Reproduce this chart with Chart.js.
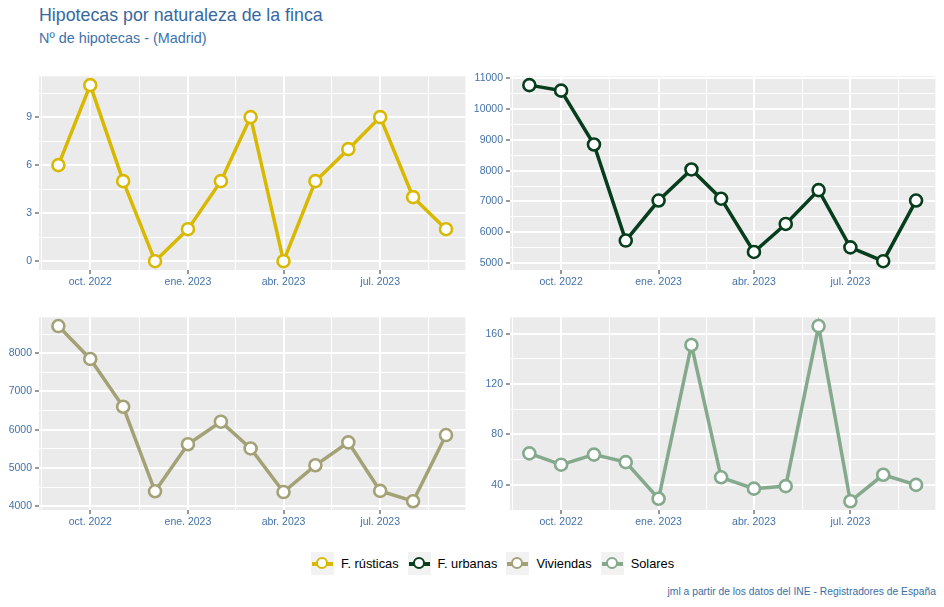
<!DOCTYPE html>
<html>
<head>
<meta charset="utf-8">
<script src="https://cdn.jsdelivr.net/npm/chart.js"></script>
<style>
  body { margin: 0; width: 944px; height: 607px; position: relative; overflow: hidden; background: #fff;
         font-family: 'Liberation Sans', Arial, sans-serif; }
  #title { position: absolute; left: 39px; top: 6px; font-size: 17.8px; line-height: 18px; color: #36689e; white-space: nowrap; }
  #subtitle { position: absolute; left: 39px; top: 31px; font-size: 14.4px; line-height: 14.5px; color: #3d72ad; white-space: nowrap; }
  .panel { position: absolute; }
  #legend { position: absolute; left: 311px; top: 552px; display: flex; align-items: center; height: 23px; }
  .item { display: flex; align-items: center; margin-right: 9px; }
  .key { width: 23px; height: 23px; background: #f2f2f2; position: relative; }
  .key .ln { position: absolute; left: 1px; right: 1px; top: 10px; height: 3.5px; }
  .key .pt { position: absolute; left: 5px; top: 5px; width: 8px; height: 8px; border-radius: 50%; background: #fff; border: 2.5px solid; }
  .lab { font-size: 12.8px; color: #000; margin-left: 7px; }
  #caption { position: absolute; right: 8px; top: 586px; font-size: 10.3px; color: #3a6ea5; white-space: nowrap; }
</style>
</head>
<body>
<div id="title">Hipotecas por naturaleza de la finca</div>
<div id="subtitle">Nº de hipotecas - (Madrid)</div>

<div class="panel" style="left:0;top:67px;width:474px;height:233px"><canvas id="c1"></canvas></div>
<div class="panel" style="left:470px;top:67px;width:474px;height:233px"><canvas id="c2"></canvas></div>
<div class="panel" style="left:0;top:308px;width:474px;height:232px"><canvas id="c3"></canvas></div>
<div class="panel" style="left:470px;top:308px;width:474px;height:232px"><canvas id="c4"></canvas></div>

<div id="legend"></div>
<div id="caption">jml a partir de los datos del INE - Registradores de España</div>

<script>
// data
const months = ['2022-09', '2022-10', '2022-11', '2022-12', '2023-01', '2023-02', '2023-03',
                '2023-04', '2023-05', '2023-06', '2023-07', '2023-08', '2023-09'];
const rusticas  = [6, 11, 5, 0, 2, 5, 9, 0, 5, 7, 9, 4, 2];
const urbanas   = [10780, 10600, 8850, 5730, 7030, 8040, 7090, 5360, 6270, 7370, 5510, 5060, 7030];
const viviendas = [8710, 7850, 6600, 4390, 5620, 6210, 5510, 4370, 5070, 5670, 4400, 4130, 5860];
const solares   = [65, 56, 64, 58, 29, 151, 46, 37, 39, 166, 27, 48, 40];

const seriesNames  = ['F. rústicas', 'F. urbanas', 'Viviendas', 'Solares'];
const seriesColors = ['#d9b800', '#063d1c', '#a3a277', '#84a98c'];

const xTickDates  = ['2022-10-01', '2023-01-01', '2023-04-01', '2023-07-01'];
const xTickLabels = ['oct. 2022', 'ene. 2023', 'abr. 2023', 'jul. 2023'];

const yTicksRusticas  = [0, 3, 6, 9];
const yTicksUrbanas   = [5000, 6000, 7000, 8000, 9000, 10000, 11000];
const yTicksViviendas = [4000, 5000, 6000, 7000, 8000];
const yTicksSolares   = [40, 80, 120, 160];

const TICK_COLOR = '#4372a8';
Chart.defaults.font.family = "'Liberation Sans', Arial, sans-serif";
Chart.defaults.animation = false;

function toDay(s) {
    const p = s.split('-');
    return Date.UTC(+p[0], +p[1] - 1, p[2] ? +p[2] : 1) / 864e5;
}

// ggplot style minor breaks: halfway between majors, one extra each side
function minorsOf(major) {
    let out = [];
    for (let i = 0; i < major.length - 1; i++) out.push((major[i] + major[i + 1]) / 2);
    out.unshift(major[0] - (major[1] - major[0]) / 2);
    out.push(major[major.length - 1] + (major[major.length - 1] - major[major.length - 2]) / 2);
    return out;
}

function expand(vals) {
    const lo = Math.min(...vals), hi = Math.max(...vals);
    const pad = (hi - lo) * 0.05;
    return [lo - pad, hi + pad];
}

const xDays = months.map(toDay);
const xMajor = xTickDates.map(toDay);
const [xMin, xMax] = expand(xDays);

// background panel like theme_gray
const panelBg = {
    id: 'panelBg',
    beforeDraw(chart) {
        const a = chart.chartArea, ctx = chart.ctx;
        ctx.save();
        ctx.fillStyle = '#ebebeb';
        ctx.fillRect(a.left, a.top, a.right - a.left, a.bottom - a.top);
        ctx.restore();
    }
};

function makePanel(id, values, color, yMajor, yWidth, rightPad) {
    const [yMin, yMax] = expand(values);
    const yAll = yMajor.concat(minorsOf(yMajor)).filter(v => v >= yMin && v <= yMax).sort((a, b) => a - b);
    const xAll = xMajor.concat(minorsOf(xMajor)).filter(v => v >= xMin && v <= xMax).sort((a, b) => a - b);
    const yMajSet = new Set(yMajor), xMajSet = new Set(xMajor);

    const gridFor = (set) => ({
        color: '#ffffff',
        lineWidth: c => (c.tick && set.has(c.tick.value)) ? 2 : 1,
        tickColor: c => (c.tick && set.has(c.tick.value)) ? '#333333' : 'rgba(0,0,0,0)',
        tickWidth: 1,
        tickLength: 4
    });

    new Chart(document.getElementById(id), {
        type: 'line',
        data: {
            datasets: [{
                data: xDays.map((d, i) => ({ x: d, y: values[i] })),
                borderColor: color,
                borderWidth: 3.5,
                pointRadius: 6,
                pointBorderWidth: 2.6,
                pointBackgroundColor: '#ffffff',
                pointBorderColor: color,
                tension: 0,
                clip: false
            }]
        },
        options: {
            responsive: true,
            maintainAspectRatio: false,
            layout: { padding: { top: 3, right: rightPad, left: 0, bottom: 0 } },
            plugins: { legend: { display: false }, tooltip: { enabled: false } },
            scales: {
                x: {
                    type: 'linear', min: xMin, max: xMax,
                    afterBuildTicks: s => { s.ticks = xAll.map(v => ({ value: v })); },
                    afterFit: s => { s.height = 30; },
                    ticks: {
                        autoSkip: false, maxRotation: 0, padding: 2, color: TICK_COLOR, font: { size: 10.5 },
                        callback: v => { const k = xMajor.indexOf(v); return k >= 0 ? xTickLabels[k] : ''; }
                    },
                    grid: gridFor(xMajSet),
                    border: { display: false }
                },
                y: {
                    type: 'linear', min: yMin, max: yMax,
                    afterBuildTicks: s => { s.ticks = yAll.map(v => ({ value: v })); },
                    afterFit: s => { s.width = yWidth; },
                    ticks: {
                        autoSkip: false, padding: 3, color: TICK_COLOR, font: { size: 10.5 },
                        callback: v => yMajSet.has(v) ? String(v) : ''
                    },
                    grid: gridFor(yMajSet),
                    border: { display: false }
                }
            }
        },
        plugins: [panelBg]
    });
}

makePanel('c1', rusticas,  seriesColors[0], yTicksRusticas,  39, 1);
makePanel('c2', urbanas,   seriesColors[1], yTicksUrbanas,   40, 5);
makePanel('c3', viviendas, seriesColors[2], yTicksViviendas, 39, 1);
makePanel('c4', solares,   seriesColors[3], yTicksSolares,   40, 5);

// shared legend
const leg = document.getElementById('legend');
seriesNames.forEach((name, i) => {
    const it = document.createElement('div');
    it.className = 'item';
    it.innerHTML = '<div class="key"><div class="ln" style="background:' + seriesColors[i] + '"></div>' +
        '<div class="pt" style="border-color:' + seriesColors[i] + '"></div></div>' +
        '<span class="lab">' + name + '</span>';
    leg.appendChild(it);
});
</script>
</body>
</html>
